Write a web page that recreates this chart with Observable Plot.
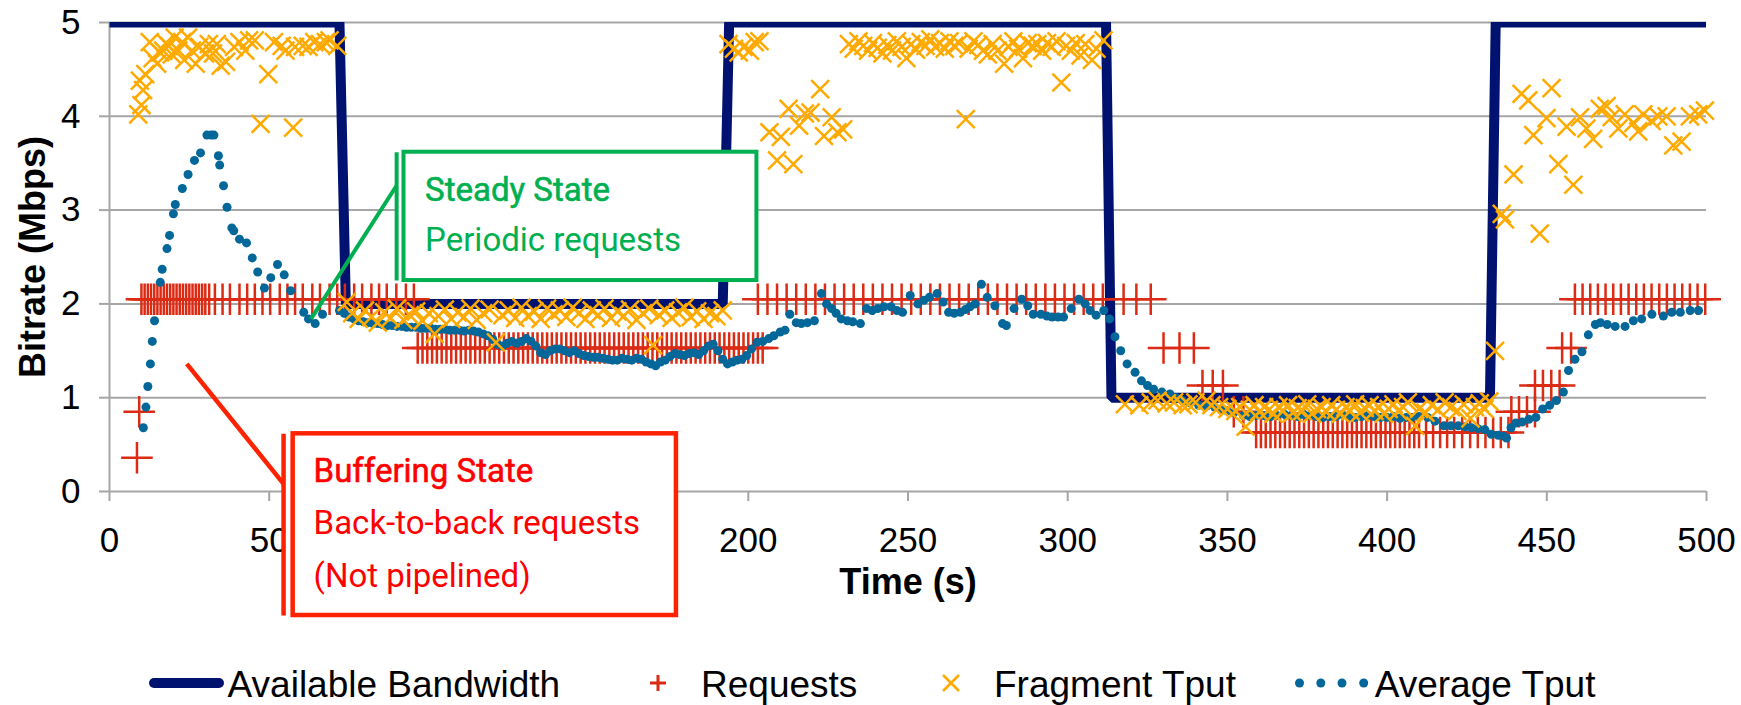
<!DOCTYPE html>
<html><head><meta charset="utf-8">
<script src="https://cdn.jsdelivr.net/npm/d3@7"></script>
<script src="https://cdn.jsdelivr.net/npm/@observablehq/plot@0.6"></script>
<style>
html,body{margin:0;padding:0;background:#fff;}
#chart{width:1741px;height:705px;overflow:hidden;}
#chart svg{display:block;}
</style></head><body><div id="chart"></div>
<script>
// ---------- data ----------
const xTicks = [0,50,100,150,200,250,300,350,400,450,500];
const xTicksCovered = [100,150]; // hidden behind the annotation box in the original
const yTicks = [0,1,2,3,4,5];

// Available bandwidth (step)
const bwTime = [0, 72, 74, 192, 194, 312, 313.7, 432.2, 434, 500];
const bwRate = [5, 5, 2, 2, 5, 5, 1, 1, 5, 5];

// Requests: bitrate levels and request times at each level
const reqLevels = [2.05, 1.53, 1.13, 0.85, 0.63, 0.36];
const req205 = [10,11,12,13,14,15,16,17,18,19,20,21,22,23,24,25,26,27,28,29,30,
  31.2,33,35.4,37.7,40.7,43.1,45.5,47.9,50.3,53.3,55.7,58.1,60.5,63.5,65.9,68.9,71.3,73.7,76.6,79.1,82,84.4,86.8,89.8,92.8,95.3,
  203,206,209,212,215,218,221,224,227,230,233,236,239,242,245,248,251,254,257,260,263,266,269,272,275,278,281,284,287,290,293,296,299,302,305,308,311,317.5,321.5,326,
  458.8,461.2,463.6,466,468.4,470.8,473.2,475.6,478,480.4,482.8,485.2,487.6,490,492.4,494.8,497.2,499.6];
const req153 = [96.5,98,99.5,101,102.5,104,105.5,107,108.5,110,111.5,113,114.5,116,117.5,119,120.5,122,123.5,125,126.5,128,129.5,131,132.5,134,135.5,137,138.5,140,141.5,143,144.5,146,147.5,149,150.5,152,153.5,155,156.5,158,159.5,161,162.5,164,165.5,167,168.5,170,171.5,173,174.5,176,177.5,179,180.5,182,183.5,185,186.5,188,189.5,191,192.5,194,195.5,197,198.5,200,201.5,203,204.5,
  330,335,339.5,454.8,457.6];
const req113 = [342.2,345.4,348.6,446.3,448.8,451.4,454];
const req085 = [9.3,352,355,438.9,441.3,443.8,446.3];
const req063 = [359,360.5,362,363.5,365,366.5,368,369.5,371,372.5,374,375.5,377,378.5,380,381.5,383,384.5,386,387.5,389,390.5,392,393.5,395,396.5,398,399.5,401,402.5,404,405.5,407,408.5,410,412.2,414.4,416.6,418.8,421,423.5,426,428.4,430.8,433.2,435.6,438];
const req036 = [8.6];

// Fragment throughput
const fragTime = [9,9.5,10,10.5,11.2,12.6,13.5,14.9,15.8,16.8,17.6,18.6,19.5,20.4,21.6,22.8,23.4,24.6,25.8,27,28.1,29.9,31.1,32.4,33.6,34.8,36.5,39,40.7,42.5,43.7,45.5,47.3,49.7,51.5,53.9,55.1,57.5,58.1,60.5,62.3,64.1,65.9,67.7,68.9,71.3,
  74.3,76,78,80,82,84,86,88,90,92,94,96,98,100,101.8,103,105,107,109,111,113,115,117,119,121,123,125,127,129,131,133,135,137,139,141,143,145,147,149,151,153,155,157,159,161,163,165,167,169,170.2,172,174,176,178,180,182,184,186,188,190,192,
  193.8,195.5,197,198.5,200.5,202,203.5,206.6,209,210.2,212.6,214.1,215.9,217.7,219.5,222.5,223.7,226.1,227.9,229.7,
  231.5,233,234.5,236,237.5,239,240.5,242,243.5,245,246.5,248,249.5,251,252.5,254,255.5,257,258.5,260,261.5,263,264.5,266,268.1,269,270.5,272,273.5,275,276.5,278,280.1,281.5,283,284.5,286,287.5,289,290.5,292,293.5,295,296.5,298,299.5,301,302.5,304,305.5,307.6,309,311.2,
  317.9,322.4,326,328.1,331,333.3,336,337.8,340,343.5,345,347.4,350,352.5,354,355.7,357,358.5,360,361.5,363,364.5,366,367.5,369,370.5,372,373.5,375,376.5,378,379.5,381,382.5,384,385.5,387,388.5,390,391.5,393,394.5,396,397.5,399,400.5,402,403.5,405,406.5,408.8,410,412,414,416,418,420,422,424,426.1,427.5,429,430.5,432,433.8,
  435.9,436.9,439.6,442.1,444.2,445.8,447.8,449.9,451.5,453.6,456.2,458.3,460.4,462.4,464.5,466.6,468.7,470.3,472.4,474.4,477.1,478.6,480.2,482.8,484.9,487.5,489.6,492.2,494.8,497.4,499.5];
const fragRate = [4.02,4.38,4.12,4.28,4.45,4.79,4.62,4.56,4.68,4.7,4.78,4.75,4.66,4.84,4.7,4.79,4.6,4.84,4.7,4.56,4.74,4.67,4.77,4.67,4.77,4.54,4.58,4.74,4.79,4.7,4.81,4.81,3.92,4.45,4.79,4.75,4.7,3.88,4.74,4.75,4.74,4.79,4.77,4.79,4.81,4.75,
  2.02,1.9,1.84,1.93,1.86,1.8,1.91,1.85,1.95,1.83,1.88,1.92,1.82,1.9,1.68,1.87,1.94,1.84,1.91,1.86,1.95,1.83,1.9,1.94,1.59,1.88,1.93,1.85,1.96,1.87,1.92,1.84,1.95,1.89,1.93,1.86,1.96,1.9,1.84,1.93,1.88,1.95,1.85,1.92,1.87,1.94,1.83,1.9,1.95,1.56,1.88,1.93,1.85,1.91,1.96,1.86,1.92,1.84,1.9,1.87,1.93,
  4.77,4.72,4.68,4.74,4.7,4.79,4.8,3.83,3.53,3.78,4.08,3.49,3.9,4.03,4.04,4.29,3.79,3.99,3.83,3.86,
  4.77,4.72,4.8,4.75,4.7,4.78,4.73,4.67,4.76,4.7,4.8,4.74,4.62,4.77,4.71,4.79,4.75,4.82,4.74,4.78,4.72,4.8,4.75,4.78,3.97,4.72,4.8,4.76,4.7,4.66,4.77,4.7,4.56,4.74,4.8,4.72,4.62,4.78,4.75,4.77,4.7,4.78,4.74,4.8,4.36,4.75,4.7,4.78,4.65,4.77,4.6,4.72,4.81,
  0.93,0.92,0.95,0.97,0.94,0.95,0.92,0.93,0.95,0.97,0.92,0.9,0.88,0.86,0.9,0.69,0.87,0.92,0.85,0.9,0.87,0.83,0.9,0.86,0.92,0.84,0.89,0.86,0.93,0.83,0.88,0.9,0.85,0.92,0.87,0.83,0.9,0.86,0.93,0.84,0.89,0.92,0.86,0.9,0.83,0.88,0.93,0.86,0.9,0.95,0.7,0.88,0.84,0.92,0.87,0.95,0.9,0.86,0.93,0.78,0.9,0.94,0.88,0.96,1.5,
  2.96,2.9,3.38,4.24,4.17,3.8,2.75,3.98,4.3,3.49,3.89,3.27,3.99,3.87,3.76,4.08,4.11,3.99,3.87,4.02,3.93,3.84,4.02,3.95,4.0,4.0,3.69,3.73,4.0,4.02,4.06];

// Average throughput
const avgTime = [10.6,11.4,12,12.8,13.4,14.1,15.9,16.5,18,18.8,20,20.6,22.8,24.6,26.6,28.5,30.5,31.8,32.7,34.1,34.5,35.7,36.8,38.3,38.9,40.7,42.9,44.7,46.4,48.5,50.5,52.6,54.7,56.7,60.8,62.3,64.4,66.7,
  72,73.5,75,76.5,78,79.5,81,82.5,84,85.5,87,88.5,90,91.5,93,94.5,96,97.5,99,100.5,102,103.5,105,106.5,108,109.5,111,112.5,114,115.5,117,118.5,120,121.5,123,124.5,126,127.5,129,130.5,132,133.5,135,136.5,138,139.5,141,142.5,144,145.5,147,148.5,150,151.5,153,154.5,156,157.5,159,160.5,162,163.5,165,166.5,168,169.5,171,172.5,174,175.5,177,178.5,180,181.5,183,184.5,186,187.5,189,190.5,192,193.5,195,196.5,198,199.5,201,202.7,204.5,206.4,208,210,211.5,213,215,216.6,218.5,220.7,222.9,224.5,226.1,227.5,229.1,231,232.7,235.1,237,238.8,240.5,242.5,244.7,246.5,248.3,250.7,253.1,255,256.7,259.1,261,262.7,264.5,266.4,268,269.4,271,273,274.8,277.2,279.6,280.8,283.2,285.6,287.5,289.2,291.6,293.5,295.1,297,298.7,301.1,303.5,305.5,307,308.9,311.3,313.1,314.8,316.6,318.6,321.1,323.1,325,326.9,329.5,332,334,335.9,338,341,343.5,346,348,349.9,352,355,357,359,361.5,363.5,365.5,368,370,372,374,376,378,380,382,384,386,388,390,392,394,396,398,400,402,404,406,407.7,410,412.7,415,417.8,420,422.3,424.5,426.4,428.5,430.6,432.6,434.8,436.5,437.4,438.8,440.3,442.3,444.4,446.6,448.7,450.9,453,455.2,456.8,458.8,461,463,465.2,466.8,468.9,471.4,474.5,477.1,479.7,482.9,486.5,489.1,491.8,494.9,497.5,499.7];
const avgRate = [0.68,0.9,1.12,1.36,1.6,1.82,2.23,2.37,2.59,2.73,2.96,3.06,3.23,3.38,3.53,3.61,3.8,3.8,3.8,3.58,3.48,3.26,3.03,2.81,2.78,2.69,2.65,2.49,2.34,2.17,2.28,2.42,2.31,2.14,1.91,1.84,1.79,1.89,
  1.93,1.9,1.86,1.84,1.82,1.81,1.8,1.79,1.79,1.78,1.77,1.77,1.76,1.76,1.75,1.75,1.75,1.74,1.74,1.74,1.73,1.73,1.73,1.72,1.72,1.72,1.71,1.72,1.71,1.7,1.68,1.66,1.62,1.57,1.55,1.58,1.6,1.58,1.6,1.63,1.6,1.55,1.48,1.46,1.5,1.52,1.52,1.5,1.48,1.5,1.47,1.45,1.44,1.43,1.43,1.42,1.41,1.4,1.4,1.42,1.41,1.4,1.42,1.41,1.38,1.36,1.34,1.38,1.4,1.44,1.47,1.46,1.45,1.47,1.48,1.46,1.5,1.55,1.57,1.5,1.41,1.36,1.38,1.4,1.41,1.45,1.52,1.59,1.6,1.63,1.66,1.7,1.72,1.89,1.8,1.79,1.8,1.82,2.11,2.0,1.95,1.9,1.84,1.82,1.81,1.79,1.95,1.93,1.95,1.97,1.97,1.93,1.91,2.09,2.0,2.04,2.07,2.11,2.02,1.91,1.9,1.91,1.94,1.97,2.0,2.21,2.07,1.98,1.79,1.77,1.95,2.05,1.98,1.89,1.89,1.87,1.86,1.86,1.86,1.95,2.05,2.0,1.93,1.88,1.93,1.84,1.65,1.5,1.36,1.27,1.18,1.13,1.09,1.06,1.04,1.0,0.97,0.95,0.92,0.91,0.9,0.88,0.86,0.84,0.81,0.8,0.81,0.81,0.8,0.81,0.82,0.81,0.8,0.82,0.81,0.8,0.79,0.8,0.8,0.82,0.8,0.79,0.8,0.81,0.8,0.79,0.79,0.8,0.78,0.79,0.79,0.8,0.79,0.75,0.7,0.7,0.7,0.69,0.68,0.67,0.66,0.61,0.6,0.59,0.57,0.68,0.73,0.74,0.77,0.79,0.88,0.92,0.97,1.06,1.29,1.41,1.49,1.67,1.78,1.8,1.78,1.76,1.76,1.82,1.84,1.89,1.87,1.91,1.91,1.93,1.93];

const legendLabels = ["Available Bandwidth", "Requests", "Fragment Tput", "Average Tput"];

// ---------- tables ----------
const bw = bwTime.map((t,i)=>({t, v: bwRate[i]}));
const reqRows = [req205, req153, req113, req085, req063, req036];
const req = reqRows.flatMap((row,k)=>row.map(t=>({t, v: reqLevels[k]})));
const frag = fragTime.map((t,i)=>({t, v: fragRate[i]}));
const avg = avgTime.map((t,i)=>({t, v: avgRate[i]}));

// ---------- styles ----------
const C = {grid:"#a6a6a6", bw:"#001270", req:"#db2b14", frag:"#ffaa00", avg:"#03679a", green:"#00b050", redBox:"#ff2200", redText:"#ff0000"};
const FONT = "'Liberation Sans', Arial, sans-serif";
const AFONT = "Roboto, 'Liberation Sans', sans-serif";

// annotation geometry (data coords)
const G = {lx:89.9, x1:92.2, x2:202.7, y1:2.249, y2:3.617, px1:63.1, py1:1.841, px2:89.9, py2:3.262, tx:98.8};
const R = {lx:54.5, x1:57.5, x2:177.5, y1:-1.322, y2:0.615, px1:24.2, py1:1.361, px2:54.5, py2:0.082, tx:63.9};

const H = 650;
const plot = Plot.plot({
  width: 1741, height: H,
  marginLeft: 109, marginRight: 35, marginTop: 22, marginBottom: H - 491,
  x: {domain: [0, 500]},
  y: {domain: [0, 5]},
  style: {fontFamily: FONT, fontSize: "35px", color: "#000", background: "#fff"},
  marks: [
    Plot.ruleY(yTicks, {stroke: C.grid, strokeWidth: 2}),
    Plot.ruleX([0], {stroke: C.grid, strokeWidth: 2}),
    Plot.axisY(yTicks, {tickSize: 10, tickPadding: 19, stroke: C.grid, strokeWidth: 2, strokeOpacity: 1, fill: "#000", label: null, fontSize: 35, tickFormat: d3.format("d")}),
    Plot.axisX(xTicks, {tickSize: 10, tickPadding: 26, stroke: C.grid, strokeWidth: 2, strokeOpacity: 1, fill: "#000", label: null, fontSize: 35,
      tickFormat: d => xTicksCovered.includes(d) ? "" : String(d)}),
    Plot.text(["Bitrate (Mbps)"], {text: d=>d, frameAnchor: "left", textAnchor: "middle", rotate: -90, dx: -76, fontWeight: "bold", fontSize: 36}),
    Plot.text(["Time (s)"], {text: d=>d, frameAnchor: "bottom", dy: 102, fontWeight: "bold", fontSize: 36}),
    Plot.line(bw, {x: "t", y: "v", stroke: C.bw, strokeWidth: 10, clip: true, strokeLinejoin: "miter", strokeLinecap: "butt"}),
    Plot.dot(req, {x: "t", y: "v", symbol: "plus", r: 10.2, stroke: C.req, strokeWidth: 2.5}),
    Plot.dot(avg, {x: "t", y: "v", r: 4.5, fill: C.avg, stroke: null}),
    Plot.dot(frag, {x: "t", y: "v", symbol: "times", r: 8.2, stroke: C.frag, strokeWidth: 2.5}),
    // green annotation
    Plot.rect([G], {x1: "lx", x2: "x2", y1: "y1", y2: "y2", fill: "#fff"}),
    Plot.rect([G], {x1: "x1", x2: "x2", y1: "y1", y2: "y2", fill: "#fff", stroke: C.green, strokeWidth: 4}),
    Plot.link([G], {x1: "lx", x2: "lx", y1: "y1", y2: "y2", stroke: C.green, strokeWidth: 4}),
    Plot.link([G], {x1: "px1", y1: "py1", x2: "px2", y2: "py2", stroke: C.green, strokeWidth: 4}),
    Plot.text(["Steady State"], {text: d=>d, x: G.tx, y: 3.102, textAnchor: "start", lineAnchor: "bottom", fill: C.green, fontSize: 33, fontFamily: AFONT, stroke: C.green, strokeWidth: 0.6}),
    Plot.text(["Periodic requests"], {text: d=>d, x: G.tx, y: 2.569, textAnchor: "start", lineAnchor: "bottom", fill: C.green, fontSize: 33, fontFamily: AFONT}),
    // red annotation
    Plot.rect([R], {x1: "lx", x2: "x2", y1: "y1", y2: "y2", fill: "#fff"}),
    Plot.rect([R], {x1: "x1", x2: "x2", y1: "y1", y2: "y2", fill: "#fff", stroke: C.redBox, strokeWidth: 4.5}),
    Plot.link([R], {x1: "lx", x2: "lx", y1: "y1", y2: "y2", stroke: C.redBox, strokeWidth: 4.5}),
    Plot.link([R], {x1: "px1", y1: "py1", x2: "px2", y2: "py2", stroke: C.redBox, strokeWidth: 4.5}),
    Plot.text(["Buffering State"], {text: d=>d, x: R.tx, y: 0.099, textAnchor: "start", lineAnchor: "bottom", fill: C.redText, fontSize: 33, fontFamily: AFONT, stroke: C.redText, strokeWidth: 0.6}),
    Plot.text(["Back-to-back requests"], {text: d=>d, x: R.tx, y: -0.448, textAnchor: "start", lineAnchor: "bottom", fill: C.redText, fontSize: 33, fontFamily: AFONT}),
    Plot.text(["(Not pipelined)"], {text: d=>d, x: R.tx, y: -1.02, textAnchor: "start", lineAnchor: "bottom", fill: C.redText, fontSize: 33, fontFamily: AFONT})
  ]
});
document.getElementById("chart").appendChild(plot);

// ---------- legend ----------
const leg = d3.create("svg").attr("width", 1741).attr("height", 705 - H)
  .style("font-family", FONT).style("font-size", "37px");
const cy = 33, base = 47;
leg.append("line").attr("x1", 154).attr("x2", 219).attr("y1", cy).attr("y2", cy)
  .attr("stroke", C.bw).attr("stroke-width", 10).attr("stroke-linecap", "round");
leg.append("path").attr("d", `M650,${cy}h16M658,${cy-8}v16`).attr("stroke", C.req).attr("stroke-width", 3).attr("fill", "none");
leg.append("path").attr("d", `M943,${cy-8}l16,16M959,${cy-8}l-16,16`).attr("stroke", C.frag).attr("stroke-width", 2.5).attr("fill", "none");
[1299.5, 1320.8, 1342, 1363.7].forEach(x => leg.append("circle").attr("cx", x).attr("cy", cy).attr("r", 4.5).attr("fill", C.avg));
[[227.6, legendLabels[0]], [701, legendLabels[1]], [994, legendLabels[2]], [1374.7, legendLabels[3]]].forEach(([x, s]) =>
  leg.append("text").attr("x", x).attr("y", base).attr("fill", "#000").text(s));
document.getElementById("chart").appendChild(leg.node());
</script>
</body></html>
